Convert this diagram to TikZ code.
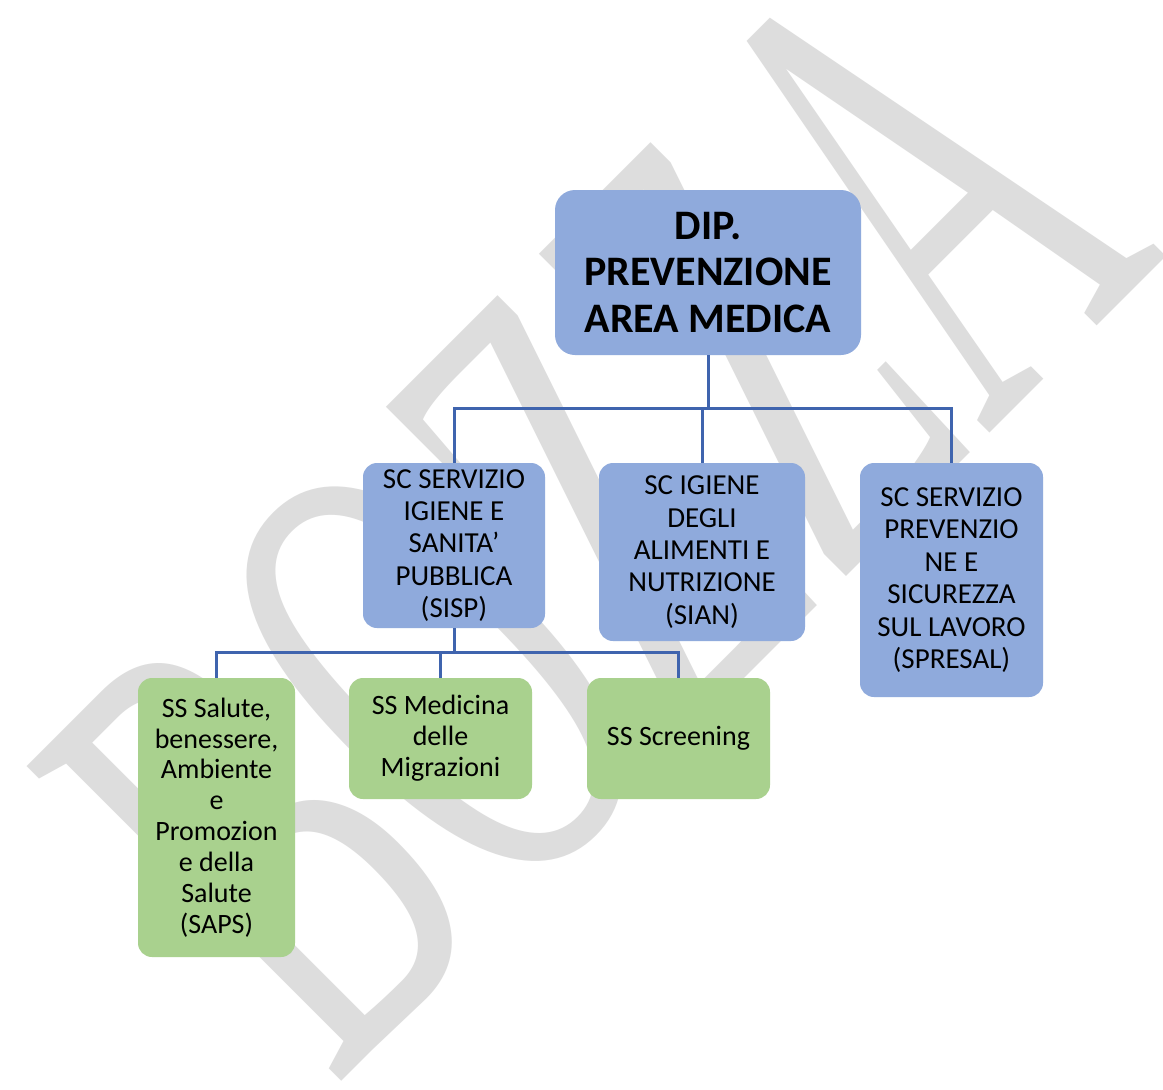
\documentclass[tikz,border=0pt]{standalone}
\usepackage{fontspec}
\setmainfont{Carlito}
\newfontfamily\wmfont{Liberation Serif}
\definecolor{boxblue}{HTML}{8FAADC}
\definecolor{boxgreen}{HTML}{A9D18E}
\definecolor{linkblue}{HTML}{3F64AE}
\definecolor{wmgray}{HTML}{DDDDDD}
\tikzset{
  box/.style={rounded corners=14bp, inner sep=0pt, align=center, text=black},
  bluebox/.style={box, fill=boxblue, font=\fontsize{29bp}{32.4bp}\selectfont},
  greenbox/.style={box, fill=boxgreen, font=\fontsize{28bp}{30.9bp}\selectfont},
  topbox/.style={box, fill=boxblue, rounded corners=20bp, font=\bfseries\fontsize{42bp}{46.5bp}\selectfont},
  link/.style={draw=linkblue, line width=3bp},
  watermark/.style={transform shape, anchor=base west, inner sep=0pt, text=wmgray,
    font=\wmfont\fontsize{354bp}{354bp}\selectfont}
}
\begin{document}
\begin{tikzpicture}[x=1bp,y=-1bp]
\useasboundingbox (0,0) rectangle (1163,1090);
\fill[white] (0,0) rectangle (1163,1090);
% watermark
\begin{scope}[shift={(334,1089)}, rotate=45, yscale=1.92]
  \node[watermark] (wm) at (0,0) {BOZZA};
\end{scope}
% boxes
\node[topbox, minimum width=306bp, minimum height=165bp] (dip) at (708,272.5)
  {DIP.\\PREVENZIONE\\AREA MEDICA};
\node[bluebox, minimum width=182bp, minimum height=165bp] (sisp) at (454,545.5)
  {SC SERVIZIO\\IGIENE E\\SANITA’\\PUBBLICA\\(SISP)};
\node[bluebox, minimum width=206bp, minimum height=178bp] (sian) at (702,552)
  {SC IGIENE\\DEGLI\\ALIMENTI E\\NUTRIZIONE\\(SIAN)};
\node[bluebox, minimum width=183bp, minimum height=234bp] (spresal) at (951.5,580)
  {SC SERVIZIO\\PREVENZIO\\NE E\\SICUREZZA\\SUL LAVORO\\(SPRESAL)};
\node[greenbox, minimum width=157bp, minimum height=279bp] (saps) at (216.5,817.5)
  {SS Salute,\\benessere,\\Ambiente\\e\\Promozion\\e della\\Salute\\(SAPS)};
\node[greenbox, minimum width=183bp, minimum height=121bp] (mig) at (440.5,738.5)
  {SS Medicina\\delle\\Migrazioni};
\node[greenbox, minimum width=183bp, minimum height=121bp] (scr) at (678.5,738.5)
  {SS Screening};
% connectors
\coordinate (bus1) at (708,408);
\coordinate (bus2) at (454,652);
\draw[link] (dip.south) -- (bus1);
\draw[link] (sisp.north) |- (bus1) -| (spresal.north);
\draw[link] (sian.north) -- (sian.north |- bus1);
\draw[link] (sisp.south) -- (bus2);
\draw[link] (saps.north) |- (bus2) -| (scr.north);
\draw[link] (mig.north) -- (mig.north |- bus2);
\end{tikzpicture}
\end{document}
